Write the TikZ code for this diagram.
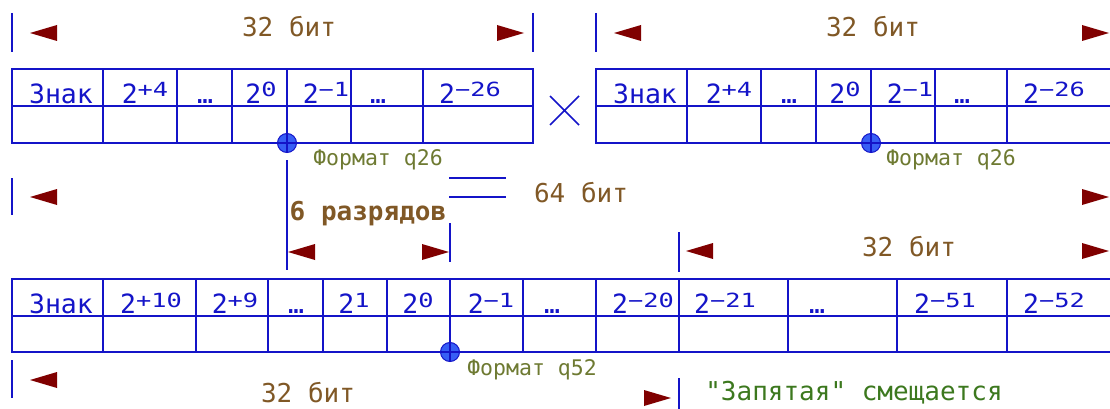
\documentclass[tikz,border=0pt]{standalone}
\usepackage{fontspec}
\newfontfamily\cadf{DejaVu Sans Mono}
\newfontfamily\cadsup[FakeStretch=1.3]{DejaVu Sans Mono}
\definecolor{lblue}{RGB}{20,20,200}
\definecolor{arrred}{RGB}{128,0,0}
\definecolor{dbrown}{RGB}{128,88,38}
\definecolor{olivet}{RGB}{110,122,50}
\definecolor{greent}{RGB}{60,120,30}
\definecolor{dotfill}{RGB}{55,95,245}
\newcommand\twop[1]{2\raisebox{6pt}{\cadsup\fontsize{19.5}{19.5}\selectfont #1}}
\tikzset{
  tbl/.style={draw=lblue, line width=2pt},
  tick/.style={draw=lblue, line width=2.4pt},
  lab/.style={anchor=base, inner sep=0pt, text=lblue, font=\cadf\fontsize{26.5}{26.5}\selectfont},
  dimtxt/.style={anchor=base, inner sep=0pt, text=dbrown, font=\cadf\fontsize{26}{26}\selectfont},
  fmt/.style={anchor=base, inner sep=0pt, text=olivet, font=\cadf\fontsize{21.5}{21.5}\selectfont},
  dot/.style={circle, draw=lblue, line width=1pt, fill=dotfill, minimum size=19pt, inner sep=0pt},
  larr/.pic={\fill[arrred] (0,0) -- (27,-8) -- (27,8) -- cycle;},
  rarr/.pic={\fill[arrred] (0,0) -- (-27,-8) -- (-27,8) -- cycle;}
}
\begin{document}
\begin{tikzpicture}[x=1pt,y=-1pt]
\useasboundingbox (0,0) rectangle (1110,409);

% ---------- top dimension lines ----------
\draw[tick] (12,13) -- (12,52);
\draw[tick] (533,13) -- (533,52);
\draw[tick] (596,13) -- (596,52);
\pic at (30,33) {larr};
\pic at (524,33) {rarr};
\pic at (614,33) {larr};
\pic at (1109,33) {rarr};
\node[dimtxt] (d1) at (289,37) {32 бит};
\node[dimtxt] (d2) at (873,37) {32 бит};

% ---------- dots (drawn under table lines) ----------
\node[dot] (c1) at (287,143) {};
\node[dot] (c2) at (871,143) {};
\node[dot] (c3) at (450,352) {};

% ---------- top-left table ----------
\draw[tbl] (12,69) rectangle (533,143);
\draw[tbl] (12,106) -- (533,106);
\foreach \x in {103,177,232,287,351,423} \draw[tbl] (\x,69) -- (\x,143);
\draw[lblue, line width=1.2pt] (c1.center) -- (c1.south);
\node[lab] (a1) at (61,103) {Знак};
\node[lab] (a2) at (145,103) {\twop{+4}};
\node[lab] (a3) at (205,103) {…};
\node[lab] (a4) at (261,103) {\twop{0}};
\node[lab] (a5) at (326,103) {\twop{−1}};
\node[lab] (a6) at (378,103) {…};
\node[lab] (a7) at (470,103) {\twop{−26}};
\node[fmt] (f1) at (378,165) {Формат q26};

% ---------- multiplication sign ----------
\coordinate (m1) at (550,96); \coordinate (m2) at (579,125);
\coordinate (m3) at (550,125); \coordinate (m4) at (579,96);
\draw[lblue, line width=1.7pt] (m1) -- (m2) (m3) -- (m4);

% ---------- top-right table ----------
\draw[tbl] (1112,69) -- (596,69) -- (596,143) -- (1112,143);
\draw[tbl] (596,106) -- (1112,106);
\foreach \x in {687,761,816,871,935,1007} \draw[tbl] (\x,69) -- (\x,143);
\draw[lblue, line width=1.2pt] (c2.center) -- (c2.south);
\node[lab] (b1) at (645,103) {Знак};
\node[lab] (b2) at (729,103) {\twop{+4}};
\node[lab] (b3) at (789,103) {…};
\node[lab] (b4) at (845,103) {\twop{0}};
\node[lab] (b5) at (910,103) {\twop{−1}};
\node[lab] (b6) at (962,103) {…};
\node[lab] (b7) at (1054,103) {\twop{−26}};
\node[fmt] (f2) at (951,165) {Формат q26};

% ---------- 64 bit row ----------
\draw[tick] (12,178) -- (12,215);
\pic at (30,197) {larr};
\pic at (1109,197) {rarr};
\coordinate (e1) at (449,178); \coordinate (e2) at (506,178);
\coordinate (e3) at (449,197); \coordinate (e4) at (506,197);
\draw[lblue, line width=2.2pt] (e1) -- (e2) (e3) -- (e4);
\node[dimtxt] (d3) at (581,202) {64 бит};

% ---------- 6 bits shift ----------
\coordinate (s1) at (287,160); \coordinate (s2) at (287,270);
\draw[tick] (s1) -- (s2);
\coordinate (s3) at (450,223); \coordinate (s4) at (450,262);
\draw[tick] (s3) -- (s4);
\pic at (288,252) {larr};
\pic at (449,252) {rarr};
\node[dimtxt, font=\cadf\bfseries\fontsize{26}{26}\selectfont] (r6) at (368,220) {6 разрядов};

% ---------- row 3 dimension ----------
\draw[tick] (679,232) -- (679,272);
\pic at (686,251) {larr};
\pic at (1109,251) {rarr};
\node[dimtxt] (d4) at (909,256) {32 бит};

% ---------- bottom table ----------
\draw[tbl] (1112,279) -- (12,279) -- (12,352) -- (1112,352);
\draw[tbl] (12,316) -- (1112,316);
\foreach \x in {103,196,268,323,387,450,523,596,679,788,897,1007} \draw[tbl] (\x,279) -- (\x,352);
\draw[lblue, line width=1.2pt] (c3.center) -- (c3.south);
\node[lab] (g1) at (61,313) {Знак};
\node[lab] (g2) at (151,313) {\twop{+10}};
\node[lab] (g3) at (235,313) {\twop{+9}};
\node[lab] (g4) at (296,313) {…};
\node[lab] (g5) at (354,313) {\twop{1}};
\node[lab] (g6) at (418,313) {\twop{0}};
\node[lab] (g7) at (491,313) {\twop{−1}};
\node[lab] (g8) at (552,313) {…};
\node[lab] (g9) at (643,313) {\twop{−20}};
\node[lab] (g10) at (725,313) {\twop{−21}};
\node[lab] (g11) at (817,313) {…};
\node[lab] (g12) at (945,313) {\twop{−51}};
\node[lab] (g13) at (1054,313) {\twop{−52}};
\node[fmt] (f3) at (532,375) {Формат q52};

% ---------- bottom dimension ----------
\draw[tick] (12,360) -- (12,398);
\pic at (30,380) {larr};
\node[dimtxt] (d5) at (308,402) {32 бит};
\pic at (671,398) {rarr};
\draw[tick] (679,378) -- (679,412);
\node[dimtxt, text=greent] (z1) at (854,400) {"Запятая" смещается};
\end{tikzpicture}
\end{document}
